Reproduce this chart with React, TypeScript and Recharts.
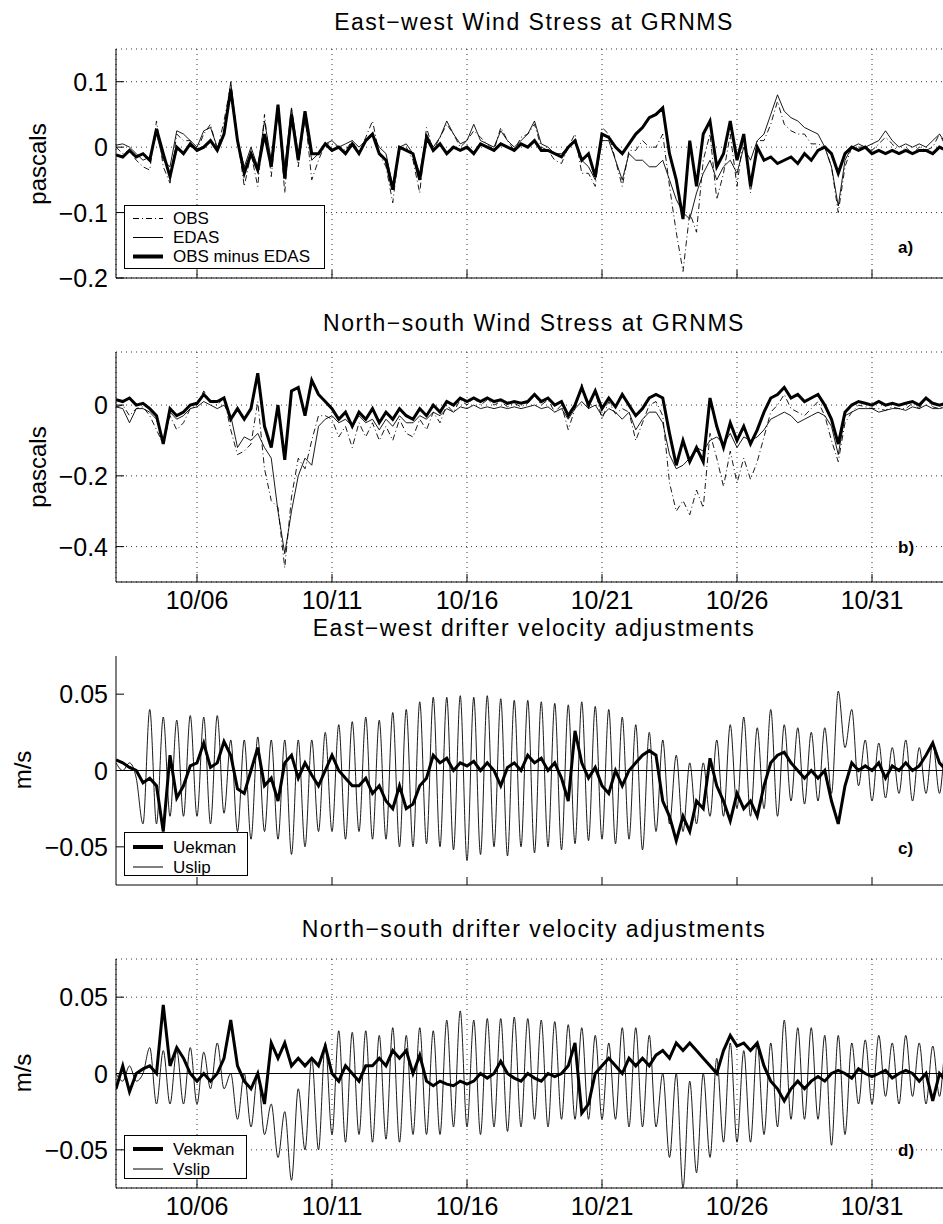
import React from 'react';
import { LineChart, Line, XAxis, YAxis, CartesianGrid, ReferenceLine, Legend } from 'recharts';

// every series is sampled every 6 hours, counted in days after 10/01 00:00
const DAY_START = 2;
const DAY_STEP = 0.25;

const TICK_DAYS = [5, 10, 15, 20, 25, 30];
const TICK_LABELS = ['10/06', '10/11', '10/16', '10/21', '10/26', '10/31'];

const EW_TICKS = [-0.2, -0.1, 0, 0.1];
const NS_TICKS = [-0.4, -0.2, 0];
const VEL_TICKS = [-0.05, 0, 0.05];

// a) east-west wind stress, pascals
const EW_OBS = [
  0.0, -0.01, -0.005, -0.02,
  -0.03, -0.035, 0.04, -0.03,
  -0.055, 0.02, 0.01, 0.01,
  -0.005, 0.02, 0.035, -0.005,
  0.04, 0.095, 0.015, -0.06,
  -0.01, -0.06, 0.05, -0.045,
  0.06, -0.07, 0.06, -0.03,
  0.05, -0.05, -0.02, 0.005,
  0.005, 0.0, -0.005, 0.01,
  -0.01, 0.015, 0.04, -0.01,
  -0.03, -0.085, 0.0, 0.0,
  -0.02, -0.07, 0.03, -0.005,
  0.015, 0.035, 0.02, 0.0,
  0.01, 0.025, 0.015, 0.005,
  -0.005, 0.03, 0.01, -0.005,
  0.015, 0.02, 0.035, 0.0,
  -0.005, -0.02, -0.025, 0.0,
  0.02, -0.04, -0.04, -0.06,
  0.03, 0.02, -0.02, -0.06,
  -0.005, -0.005, 0.01, 0.0,
  0.0, 0.02, -0.06, -0.13,
  -0.19, -0.1, -0.13, -0.02,
  0.02, -0.08, -0.04, 0.02,
  -0.06, 0.02, -0.07, 0.01,
  0.01, 0.035, 0.07, 0.035,
  0.025, 0.02, 0.02, 0.005,
  0.005, 0.0, -0.03, -0.1,
  -0.03, 0.0, 0.0, 0.0,
  -0.005, 0.005, 0.015, 0.005,
  -0.01, 0.0, -0.01, 0.0,
  -0.005, 0.0, 0.02, 0.0,
  -0.005,
];
const EW_EDAS = [
  0.003, 0.005, 0.0, -0.01,
  -0.02, -0.015, 0.02, -0.02,
  -0.03, 0.025, 0.02, 0.01,
  0.0, 0.025, 0.03, 0.0,
  0.02, 0.1, 0.01, -0.03,
  0.0, -0.03, 0.04, -0.02,
  0.05, -0.03, 0.06, -0.01,
  0.04, -0.02, -0.01, 0.005,
  0.01, 0.0, 0.005, 0.01,
  0.0, 0.01, 0.02, 0.0,
  -0.01, -0.06, 0.0, 0.005,
  -0.01, -0.04, 0.02, 0.0,
  0.015, 0.04, 0.02, 0.005,
  0.01, 0.035, 0.01, 0.005,
  0.0, 0.025, 0.01, 0.0,
  0.01, 0.02, 0.04, 0.005,
  0.0, -0.01, -0.01, 0.0,
  0.01, -0.02, -0.03, -0.05,
  0.01, 0.01, -0.02, -0.05,
  -0.01, -0.02, -0.02, -0.03,
  -0.03, -0.02, -0.05, -0.08,
  -0.1, -0.11, -0.07, -0.04,
  -0.02, -0.05, -0.03, -0.02,
  -0.04, 0.0, -0.02, 0.01,
  0.02, 0.05, 0.08, 0.055,
  0.045, 0.04, 0.03, 0.025,
  0.02, 0.0, -0.03, -0.09,
  -0.02, 0.0, 0.005, 0.0,
  0.005, 0.01, 0.025, 0.01,
  0.0, 0.005, 0.0, 0.005,
  0.0, 0.01, 0.02, 0.005,
  0.0,
];
const EW_DIFF = [
  -0.012, -0.015, -0.005, -0.015,
  -0.01, -0.02, 0.028, -0.01,
  -0.045, 0.0, -0.01, 0.005,
  -0.005, 0.0, 0.01, -0.005,
  0.02, 0.088, 0.01, -0.04,
  -0.01, -0.035, 0.02, -0.03,
  0.065, -0.048, 0.05, -0.02,
  0.055, -0.01, -0.01, 0.005,
  -0.005, 0.0, -0.01, 0.005,
  -0.01, 0.01, 0.02, -0.01,
  -0.02, -0.065, 0.0, -0.005,
  -0.01, -0.05, 0.015, -0.005,
  0.005, -0.01, 0.0, -0.005,
  0.0, -0.01, 0.005, 0.0,
  -0.005, 0.005, 0.0, -0.005,
  0.005, 0.0, 0.01, -0.005,
  -0.005, -0.01, -0.015, 0.0,
  0.01, -0.02, -0.01, -0.045,
  0.02, 0.015, 0.0, -0.01,
  0.005, 0.02, 0.03, 0.045,
  0.05, 0.06, -0.01, -0.05,
  -0.11, 0.01, -0.06, 0.02,
  0.04, -0.03, -0.01, 0.04,
  -0.02, 0.02, -0.06, 0.0,
  -0.02, -0.015, -0.025, -0.02,
  -0.015, -0.025, -0.01, -0.02,
  -0.005, 0.0, -0.01, -0.04,
  -0.01, 0.0, -0.005, 0.0,
  -0.01, -0.005, -0.01, -0.005,
  -0.01, -0.005, -0.01, -0.005,
  -0.005, -0.01, 0.0, -0.005,
  -0.005,
];

// b) north-south wind stress, pascals
const NS_OBS = [
  -0.005, 0.0, -0.03, -0.01,
  -0.005, -0.03, -0.07, -0.11,
  -0.03, -0.07, -0.05, -0.01,
  0.0, 0.04, 0.01, 0.0,
  0.02, -0.07, -0.14, -0.13,
  -0.11, 0.01, -0.18, -0.27,
  -0.29, -0.46, -0.26, -0.15,
  -0.18, -0.1, -0.03, -0.03,
  -0.04, -0.09, -0.06, -0.12,
  -0.05, -0.09, -0.05, -0.1,
  -0.06, -0.1, -0.04, -0.08,
  -0.09, -0.04, -0.07, -0.02,
  -0.05, 0.0, -0.02, 0.015,
  0.0, 0.02, 0.0, 0.015,
  0.0, 0.01, -0.005, 0.005,
  -0.005, 0.005, 0.03, 0.0,
  0.015, -0.02, 0.0, -0.07,
  -0.01, 0.06, -0.01, 0.04,
  -0.04, 0.01, -0.025, -0.01,
  -0.02, -0.1, -0.05, 0.0,
  0.01, -0.03, -0.22, -0.3,
  -0.27, -0.31, -0.24, -0.29,
  -0.08, -0.15, -0.23, -0.13,
  -0.22, -0.15, -0.21, -0.16,
  -0.09, -0.02, 0.0, 0.03,
  -0.01, -0.02, -0.03, -0.01,
  0.01, -0.03, -0.1, -0.16,
  -0.05, -0.02, 0.0, -0.005,
  -0.01, -0.01, -0.015, -0.005,
  -0.01, -0.01, 0.005, -0.01,
  0.02, -0.005, -0.01, 0.0,
  -0.005,
];
const NS_EDAS = [
  -0.005, -0.01, -0.05, -0.01,
  -0.01, -0.02, -0.04, -0.1,
  -0.02, -0.04, -0.03, -0.01,
  -0.005, 0.01, 0.0, -0.01,
  0.0, -0.03, -0.12, -0.09,
  -0.1, -0.08, -0.12, -0.15,
  -0.3, -0.42, -0.3, -0.2,
  -0.15, -0.17, -0.06, -0.04,
  -0.03, -0.05, -0.04, -0.06,
  -0.03, -0.05, -0.04, -0.07,
  -0.04, -0.06, -0.03, -0.05,
  -0.05, -0.03, -0.04, -0.02,
  -0.03, -0.01, -0.02, -0.005,
  -0.01, 0.0, -0.01, -0.005,
  -0.01, -0.005, -0.01, -0.005,
  -0.01, -0.005, 0.0, -0.01,
  -0.005, -0.02, -0.01, -0.04,
  -0.01, 0.01, -0.01, 0.0,
  -0.03, -0.01, -0.02, -0.04,
  -0.02, -0.07, -0.04, -0.02,
  -0.02, -0.05, -0.14, -0.18,
  -0.17, -0.15, -0.12, -0.13,
  -0.1, -0.09, -0.11, -0.08,
  -0.12, -0.09, -0.1, -0.09,
  -0.07, -0.04, -0.03, -0.02,
  -0.03, -0.05, -0.04, -0.03,
  -0.02, -0.03, -0.06, -0.14,
  -0.03, -0.02, -0.01, -0.01,
  -0.01, -0.02, -0.015, -0.01,
  -0.01, -0.015, -0.005, -0.01,
  0.0, -0.01, -0.01, -0.005,
  -0.005,
];
const NS_DIFF = [
  0.015, 0.01, 0.02, 0.0,
  0.005, -0.01, -0.03, -0.11,
  -0.01, -0.03, -0.02, 0.0,
  0.005, 0.03, 0.01, 0.01,
  0.02, -0.04, -0.01, -0.04,
  -0.01, 0.09, -0.06, -0.12,
  0.0, -0.155, 0.04, 0.05,
  -0.03, 0.07, 0.03, 0.01,
  -0.01, -0.04, -0.02, -0.06,
  -0.02, -0.04, -0.01, -0.05,
  -0.02, -0.04, -0.01, -0.03,
  -0.04, -0.01, -0.03, 0.0,
  -0.02, 0.01, 0.0, 0.02,
  0.01, 0.02, 0.01, 0.02,
  0.01, 0.015, 0.005, 0.01,
  0.005, 0.01, 0.03, 0.01,
  0.02, 0.0, 0.01, -0.03,
  0.0, 0.05, 0.0, 0.04,
  -0.01, 0.02, -0.005, 0.03,
  0.0, -0.03, -0.01, 0.02,
  0.03, 0.02, -0.08, -0.17,
  -0.1, -0.16, -0.12, -0.16,
  0.02, -0.06, -0.12, -0.05,
  -0.1, -0.06, -0.11, -0.07,
  -0.02, 0.02, 0.03, 0.05,
  0.02, 0.03, 0.01, 0.02,
  0.03, 0.0, -0.04, -0.11,
  -0.02, 0.0, 0.01, 0.005,
  0.0, 0.01, 0.0, 0.005,
  0.0, 0.005, 0.01, 0.0,
  0.02, 0.005, 0.0, 0.005,
  0.0,
];

// c) east-west drifter velocity adjustments, m/s
const U_EKMAN = [
  0.007, 0.005, 0.002, 0.0,
  -0.008, -0.005, -0.01, -0.04,
  0.01, -0.018, -0.01, 0.003,
  0.005, 0.018, 0.002, 0.005,
  0.019, 0.01, -0.012, -0.015,
  0.0, 0.015, -0.01, -0.005,
  -0.02, 0.005, 0.01, -0.005,
  0.005, -0.003, -0.01, 0.0,
  0.01, 0.0, -0.005, -0.01,
  -0.01, -0.005, -0.015, -0.01,
  -0.02, -0.025, -0.01, -0.025,
  -0.022, -0.01, -0.005, 0.01,
  0.005, 0.008, 0.0, 0.005,
  0.003, 0.006, 0.0, 0.005,
  0.0, -0.01, 0.002, 0.005,
  0.0, 0.01, 0.005, 0.008,
  0.0, 0.005, -0.005, -0.02,
  0.026, 0.005, -0.005, 0.002,
  -0.01, -0.015, 0.0, -0.01,
  0.0, 0.005, 0.01, 0.013,
  0.01, -0.02, -0.03, -0.046,
  -0.03, -0.04, -0.02, -0.025,
  0.008, -0.01, -0.02, -0.033,
  -0.015, -0.025, -0.02, -0.03,
  -0.01, 0.005, 0.01, 0.012,
  0.005, 0.0, -0.005, 0.0,
  -0.005, 0.0, -0.02, -0.035,
  -0.01, 0.005, 0.0, 0.003,
  0.0, 0.005, -0.005, 0.003,
  0.0, 0.005, 0.0, 0.003,
  0.01, 0.018, 0.005, 0.0,
  0.002,
];
const U_SLIP = [
  0.005, 0.0, 0.005, -0.005,
  -0.035, 0.04, -0.035, 0.035,
  -0.03, 0.033, -0.03, 0.036,
  -0.03, 0.035, -0.035, 0.036,
  -0.028, 0.02, -0.04, 0.02,
  -0.045, 0.022, -0.04, 0.02,
  -0.045, 0.02, -0.055, 0.02,
  -0.05, 0.02, -0.04, 0.025,
  -0.04, 0.03, -0.045, 0.032,
  -0.04, 0.035, -0.045, 0.033,
  -0.045, 0.038, -0.05, 0.04,
  -0.05, 0.045, -0.048, 0.048,
  -0.05, 0.048, -0.052, 0.049,
  -0.059, 0.048, -0.055, 0.049,
  -0.05, 0.047, -0.056, 0.046,
  -0.05, 0.046, -0.054, 0.045,
  -0.05, 0.044, -0.052, 0.043,
  -0.048, 0.045, -0.046, 0.042,
  -0.045, 0.04, -0.048, 0.035,
  -0.045, 0.03, -0.052, 0.025,
  -0.04, 0.02, -0.035, 0.01,
  -0.04, 0.005, -0.035, 0.005,
  -0.03, 0.02, -0.03, 0.03,
  -0.025, 0.035, -0.03, 0.028,
  -0.025, 0.04, -0.03, 0.03,
  -0.02, 0.028, -0.022, 0.025,
  -0.02, 0.028, -0.015, 0.052,
  0.015, 0.04, -0.01, 0.02,
  -0.02, 0.018, -0.018, 0.015,
  -0.015, 0.02, -0.02, 0.015,
  -0.015, 0.018, -0.015, 0.02,
  -0.01,
];

// d) north-south drifter velocity adjustments, m/s
const V_EKMAN = [
  -0.01, 0.005, -0.012, 0.0,
  0.003, 0.005, 0.0, 0.045,
  0.005, 0.017, 0.01, 0.0,
  -0.005, 0.0, -0.005, 0.0,
  0.01, 0.035, 0.005, -0.005,
  -0.01, 0.0, -0.02, 0.02,
  0.01, 0.02, 0.005, 0.01,
  0.005, 0.01, 0.005, 0.018,
  0.0, -0.005, 0.005, 0.0,
  -0.005, 0.005, 0.005, 0.01,
  0.005, 0.015, 0.01, 0.015,
  0.0, 0.012, -0.005, -0.008,
  -0.005, -0.007, -0.008, -0.005,
  -0.007, -0.005, 0.0, -0.003,
  0.0, 0.008, 0.0, -0.003,
  -0.005, 0.0, -0.003, -0.005,
  0.0, -0.002, 0.0, 0.005,
  0.02, -0.026, -0.02, 0.0,
  0.005, 0.01, 0.005, 0.0,
  0.01, 0.005, 0.01, 0.005,
  0.012, 0.015, 0.01, 0.02,
  0.015, 0.02, 0.015, 0.01,
  0.005, 0.0, 0.015, 0.025,
  0.018, 0.02, 0.015, 0.02,
  0.005, -0.005, -0.01, -0.018,
  -0.01, -0.005, -0.01, -0.005,
  -0.002, -0.005, 0.0, 0.002,
  0.0, -0.003, 0.003, 0.0,
  -0.002, 0.0, 0.002, -0.003,
  0.0, 0.002, 0.0, -0.005,
  0.0, -0.018, 0.0, -0.005,
  -0.002,
];
const V_SLIP = [
  0.0, -0.005, 0.005, -0.005,
  0.0, 0.017, -0.02, 0.015,
  -0.02, 0.015, -0.02, 0.017,
  -0.02, 0.014, -0.01, 0.02,
  -0.01, 0.0, -0.03, 0.0,
  -0.035, 0.0, -0.04, -0.02,
  -0.055, -0.025, -0.07, -0.01,
  -0.05, 0.01, -0.05, 0.02,
  -0.04, 0.028, -0.045, 0.027,
  -0.04, 0.028, -0.045, 0.025,
  -0.043, 0.03, -0.045, 0.025,
  -0.04, 0.03, -0.04, 0.028,
  -0.04, 0.035, -0.035, 0.041,
  -0.035, 0.035, -0.04, 0.036,
  -0.035, 0.036, -0.038, 0.037,
  -0.035, 0.036, -0.03, 0.035,
  -0.035, 0.034, -0.03, 0.032,
  -0.03, 0.03, -0.03, 0.025,
  -0.03, 0.02, -0.03, 0.03,
  -0.035, 0.03, -0.035, 0.025,
  -0.035, 0.0, -0.055, 0.0,
  -0.075, -0.005, -0.065, 0.0,
  -0.055, 0.01, -0.045, 0.02,
  -0.045, 0.015, -0.045, 0.02,
  -0.04, 0.02, -0.035, 0.035,
  -0.03, 0.03, -0.03, 0.03,
  -0.03, 0.025, -0.047, 0.025,
  -0.04, 0.02, -0.02, 0.022,
  -0.02, 0.025, -0.015, 0.02,
  -0.02, 0.025, -0.015, 0.02,
  -0.02, 0.018, -0.015, 0.02,
  -0.01,
];

const rows = EW_OBS.map((_, i) => ({
  t: DAY_START + i * DAY_STEP,
  ewObs: EW_OBS[i],
  ewEdas: EW_EDAS[i],
  ewDiff: EW_DIFF[i],
  nsObs: NS_OBS[i],
  nsEdas: NS_EDAS[i],
  nsDiff: NS_DIFF[i],
  uEkman: U_EKMAN[i],
  uSlip: U_SLIP[i],
  vEkman: V_EKMAN[i],
  vSlip: V_SLIP[i],
}));

const FONT = '"Liberation Sans", Arial, Helvetica, sans-serif';
const DASH_DOT = '6 3 1 3';
const THIN = 0.9;
const THICK = 3;

const fmt = (v: number) => (v === 0 ? '0' : (v < 0 ? '\u2212' : '') + String(Math.abs(v)));

const LeftTick = (p: any) => (
  <g>
    <line x1={p.x + 8} x2={p.x + 16} y1={p.y} y2={p.y} stroke="#000" />
    <text x={p.x} y={p.y} dy="0.36em" textAnchor="end" fontSize={25} fill="#000">
      {fmt(p.payload.value)}
    </text>
  </g>
);

const TopTick = (p: any) => (
  <line x1={p.x} x2={p.x} y1={p.y} y2={p.y + 8} stroke="#000" />
);

const bottomTick = (showDates: boolean) => (p: any) => (
  <g>
    <line x1={p.x} x2={p.x} y1={p.y} y2={p.y - 8} stroke="#000" />
    {showDates && (
      <text x={p.x} y={p.y + 27} textAnchor="middle" fontSize={25} fill="#000">
        {TICK_LABELS[TICK_DAYS.indexOf(p.payload.value)]}
      </text>
    )}
  </g>
);

type SeriesDef = { key: string; name: string; width: number; dash?: string; curve?: 'linear' | 'monotone' };
type LegendDef = { order: string[]; top: number; width: number; height: number; padTop: number; rowH: number };

const LegendBox = ({ items, def }: { items: SeriesDef[]; def: LegendDef }) => (
  <div
    style={{
      width: def.width,
      height: def.height,
      boxSizing: 'border-box',
      border: '1px solid #000',
      background: '#fff',
      paddingTop: def.padTop,
      fontFamily: FONT,
      fontSize: 17,
      color: '#000',
    }}
  >
    {def.order.map((k) => {
      const it = items.find((s) => s.key === k)!;
      return (
        <div key={k} style={{ height: def.rowH, display: 'flex', alignItems: 'center' }}>
          <svg width={48} height={def.rowH} style={{ flex: 'none' }}>
            <line x1={8} x2={38} y1={def.rowH / 2} y2={def.rowH / 2} stroke="#000" strokeWidth={it.width === THICK ? 4 : 1} strokeDasharray={it.dash} />
          </svg>
          <span style={{ lineHeight: 1 }}>{it.name}</span>
        </div>
      );
    })}
  </div>
);

type PanelProps = {
  top: number;
  bottom: number;
  domain: [number, number];
  ticks: number[];
  grid: boolean;
  zero: boolean;
  dates: boolean;
  series: SeriesDef[];
  legend?: LegendDef;
};

const Panel = ({ top, bottom, domain, ticks, grid, zero, dates, series, legend }: PanelProps) => {
  const chartTop = top - 10;
  return (
    <div style={{ position: 'absolute', left: 0, top: chartTop }}>
      <LineChart width={1000} height={bottom - top + 50} data={rows} margin={{ top: 10, right: 47, bottom: 0, left: 0 }}>
        {grid && <CartesianGrid stroke="#000" strokeWidth={0.8} strokeDasharray="1 4" />}
        <XAxis
          xAxisId="top"
          orientation="top"
          type="number"
          dataKey="t"
          domain={[2, 33]}
          ticks={TICK_DAYS}
          height={0}
          tickSize={0}
          tickMargin={0}
          tickLine={false}
          axisLine={{ stroke: '#000' }}
          allowDataOverflow
          tick={TopTick}
        />
        <XAxis
          type="number"
          dataKey="t"
          domain={[2, 33]}
          ticks={TICK_DAYS}
          height={40}
          tickSize={0}
          tickMargin={0}
          tickLine={false}
          axisLine={{ stroke: '#000' }}
          allowDataOverflow
          tick={bottomTick(dates)}
        />
        <YAxis
          type="number"
          domain={domain}
          ticks={ticks}
          width={116}
          tickSize={0}
          tickMargin={8}
          tickLine={false}
          axisLine={{ stroke: '#000' }}
          allowDataOverflow
          tick={LeftTick}
        />
        {zero && <ReferenceLine y={0} stroke="#000" strokeWidth={1} />}
        {series.map((s) => (
          <Line
            key={s.key}
            dataKey={s.key}
            name={s.name}
            type={s.curve ?? 'linear'}
            stroke="#000"
            strokeWidth={s.width}
            strokeDasharray={s.dash}
            dot={false}
            isAnimationActive={false}
          />
        ))}
        {legend && (
          <Legend
            layout="vertical"
            align="center"
            verticalAlign="middle"
            wrapperStyle={{ left: 124, top: legend.top - chartTop, width: legend.width, height: legend.height }}
            content={() => <LegendBox items={series} def={legend} />}
          />
        )}
      </LineChart>
    </div>
  );
};

const TITLES = [
  { text: 'East\u2212west Wind Stress at GRNMS', y: 30 },
  { text: 'North\u2212south Wind Stress at GRNMS', y: 331 },
  { text: 'East\u2212west drifter velocity adjustments', y: 636 },
  { text: 'North\u2212south drifter velocity adjustments', y: 937 },
];
const Y_LABELS = [
  { text: 'pascals', x: 46, y: 164 },
  { text: 'pascals', x: 46, y: 467 },
  { text: 'm/s', x: 31, y: 770 },
  { text: 'm/s', x: 31, y: 1073 },
];
const PANEL_TAGS = [
  { text: 'a)', y: 253 },
  { text: 'b)', y: 553 },
  { text: 'c)', y: 854 },
  { text: 'd)', y: 1156 },
];

export default function App() {
  return (
    <div style={{ position: 'absolute', left: 0, top: 0, width: 943, height: 1224, overflow: 'hidden', background: '#fff', fontFamily: FONT }}>
      <Panel
        top={49}
        bottom={278}
        domain={[-0.2, 0.15]}
        ticks={EW_TICKS}
        grid
        zero={false}
        dates={false}
        series={[
          { key: 'ewObs', name: 'OBS', width: THIN, dash: DASH_DOT },
          { key: 'ewEdas', name: 'EDAS', width: THIN },
          { key: 'ewDiff', name: 'OBS minus EDAS', width: THICK },
        ]}
        legend={{ order: ['ewObs', 'ewEdas', 'ewDiff'], top: 205, width: 201, height: 64, padTop: 3, rowH: 19 }}
      />
      <Panel
        top={352}
        bottom={582}
        domain={[-0.5, 0.15]}
        ticks={NS_TICKS}
        grid
        zero={false}
        dates
        series={[
          { key: 'nsObs', name: 'OBS', width: THIN, dash: DASH_DOT },
          { key: 'nsEdas', name: 'EDAS', width: THIN },
          { key: 'nsDiff', name: 'OBS minus EDAS', width: THICK },
        ]}
      />
      <Panel
        top={656}
        bottom={885}
        domain={[-0.075, 0.075]}
        ticks={VEL_TICKS}
        grid={false}
        zero
        dates={false}
        series={[
          { key: 'uSlip', name: 'Uslip', width: THIN, curve: 'monotone' },
          { key: 'uEkman', name: 'Uekman', width: THICK },
        ]}
        legend={{ order: ['uEkman', 'uSlip'], top: 832, width: 124, height: 44, padTop: 4, rowH: 20 }}
      />
      <Panel
        top={959}
        bottom={1188}
        domain={[-0.075, 0.075]}
        ticks={VEL_TICKS}
        grid
        zero
        dates
        series={[
          { key: 'vSlip', name: 'Vslip', width: THIN, curve: 'monotone' },
          { key: 'vEkman', name: 'Vekman', width: THICK },
        ]}
        legend={{ order: ['vEkman', 'vSlip'], top: 1135, width: 123, height: 44, padTop: 3, rowH: 20 }}
      />
      <svg width={943} height={1224} style={{ position: 'absolute', left: 0, top: 0, pointerEvents: 'none' }}>
        {TITLES.map((t) => (
          <text key={t.text} x={534} y={t.y} textAnchor="middle" fontSize={23} letterSpacing={1.5} fill="#000">
            {t.text}
          </text>
        ))}
        {Y_LABELS.map((l, i) => (
          <text key={i} x={l.x} y={l.y} textAnchor="middle" fontSize={24} fill="#000" transform={`rotate(-90 ${l.x} ${l.y})`}>
            {l.text}
          </text>
        ))}
        {PANEL_TAGS.map((p) => (
          <text key={p.text} x={898} y={p.y} fontSize={17} fontWeight="bold" fill="#000">
            {p.text}
          </text>
        ))}
      </svg>
    </div>
  );
}
